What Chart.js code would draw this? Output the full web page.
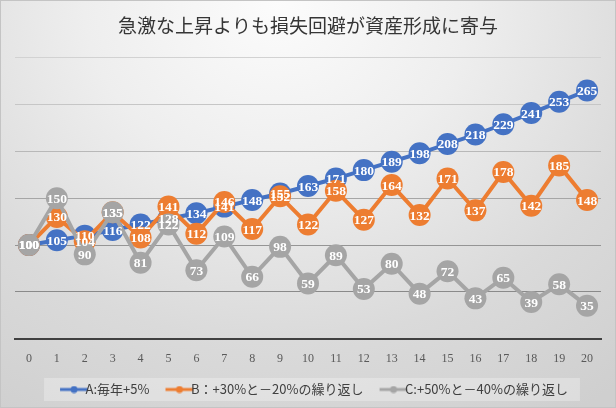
<!DOCTYPE html>
<html><head><meta charset="utf-8">
<script src="https://cdn.jsdelivr.net/npm/chart.js@4/dist/chart.umd.min.js"></script>
<style>
html,body{margin:0;padding:0;}
#wrap{position:relative;width:616px;height:408px;box-sizing:border-box;border:1px solid #c4c4c4;
background:radial-gradient(ellipse 90% 120% at 45% 0%, #fcfcfc 0%, #eeeeee 35%, #dadada 70%, #cfcfcf 100%);}
canvas{display:block;}
</style></head>
<body><div id="wrap"><canvas id="c" width="614" height="406"></canvas></div>
<script>
const categories = ["0","1","2","3","4","5","6","7","8","9","10","11","12","13","14","15","16","17","18","19","20"];
const seriesNames = ["A:毎年+5%", "B：+30%と－20%の繰り返し", "C:+50%と－40%の繰り返し"];
const seriesA = [100,105,110,116,122,128,134,141,148,155,163,171,180,189,198,208,218,229,241,253,265];
const seriesB = [100,130,104,135,108,141,112,146,117,152,122,158,127,164,132,171,137,178,142,185,148];
const seriesC = [100,150,90,135,81,122,73,109,66,98,59,89,53,80,48,72,43,65,39,58,35];
const colors = ["#4472C4", "#ED7D31", "#A5A5A5"];

const ICON_W = 31;
function legendIcon(col){
  const cv = document.createElement('canvas');
  cv.width = ICON_W + 20; cv.height = 8;
  const g = cv.getContext('2d');
  const x0 = cv.width - 29, x1 = cv.width - 1;
  g.strokeStyle = col; g.lineWidth = 3;
  g.beginPath(); g.moveTo(x0,4); g.lineTo(x1,4); g.stroke();
  g.fillStyle = col; g.beginPath(); g.arc((x0+x1)/2,4,3.5,0,Math.PI*2); g.fill();
  return cv;
}

const labelPlugin = {
  id: 'valueLabels',
  afterDatasetsDraw(chart){
    const ctx = chart.ctx;
    ctx.save();
    ctx.font = 'bold 13.5px "Liberation Serif", "DejaVu Serif", serif';
    ctx.fillStyle = '#ffffff';
    ctx.textAlign = 'center';
    ctx.textBaseline = 'middle';
    chart.data.datasets.forEach((ds, i) => {
      const meta = chart.getDatasetMeta(i);
      meta.data.forEach((pt, j) => {
        ctx.fillText(String(ds.data[j]), pt.x, pt.y + 1);
      });
    });
    ctx.restore();
  }
};

const legendBg = {
  id: 'legendBg',
  beforeDraw(chart){
    const lg = chart.legend;
    if (!lg || !lg.legendHitBoxes || !lg.legendHitBoxes.length) return;
    const hb = lg.legendHitBoxes;
    const l = Math.min(...hb.map(b=>b.left)) - 4;
    const r = Math.max(...hb.map(b=>b.left + b.width)) + 12;
    const cy = hb[0].top + hb[0].height / 2;
    const ctx = chart.ctx;
    ctx.save();
    ctx.fillStyle = 'rgba(255,255,255,0.28)';
    ctx.fillRect(l, cy - 11.5, r - l, 23);
    ctx.restore();
  }
};

const gridColors = {0:'rgba(0,0,0,0)',50:'#8a8a8a',100:'#959595',150:'#a6a6a6',200:'#b8b8b8',250:'#c6c6c6',300:'#d2d2d2'};

function ds(label, data, col, order){
  return {label, data, borderColor: col, backgroundColor: col, pointBackgroundColor: col,
    pointBorderColor: col, borderWidth: 4, pointRadius: 11, pointHoverRadius: 11,
    pointBorderWidth: 0, tension: 0, order};
}

new Chart(document.getElementById('c'), {
  type: 'line',
  data: {
    labels: categories,
    datasets: [
      ds(seriesNames[0], seriesA, colors[0], 3),
      ds(seriesNames[1], seriesB, colors[1], 2),
      ds(seriesNames[2], seriesC, colors[2], 1)
    ]
  },
  options: {
    responsive: false,
    animation: false,
    devicePixelRatio: 1,
    layout: { padding: { left: 14, right: 14, top: 0, bottom: 1 } },
    plugins: {
      title: {
        display: true,
        text: '急激な上昇よりも損失回避が資産形成に寄与',
        color: '#363636',
        font: { family: '"Noto Sans CJK JP", sans-serif', size: 19, weight: 'normal' },
        padding: { top: 13, bottom: 21 }
      },
      legend: {
        position: 'bottom',
        labels: {
          color: '#404040',
          font: { family: '"Noto Sans CJK JP", sans-serif', size: 13 },
          usePointStyle: true,
          pointStyleWidth: ICON_W,
          padding: 4,
          generateLabels(chart){
            return chart.data.datasets.map((d, i) => ({
              text: d.label, fillStyle: d.borderColor, strokeStyle: d.borderColor,
              pointStyle: legendIcon(d.borderColor), lineWidth: 0, datasetIndex: i, hidden: false,
              fontColor: '#404040'
            }));
          }
        }
      },
      tooltip: { enabled: false }
    },
    scales: {
      x: {
        type: 'category',
        offset: true,
        grid: { display: false, drawTicks: false },
        border: { display: true, color: '#404040', width: 2 },
        ticks: { color: '#595959', padding: 13, font: { family: '"Liberation Serif", serif', size: 12 }, maxRotation: 0, autoSkip: false }
      },
      y: {
        min: 0, max: 300,
        ticks: { stepSize: 50, display: false },
        grid: { drawTicks: false, color: (c) => gridColors[c.tick.value] || '#aaaaaa', lineWidth: 1 },
        border: { display: false }
      }
    }
  },
  plugins: [labelPlugin, legendBg]
});
</script>
</body></html>
